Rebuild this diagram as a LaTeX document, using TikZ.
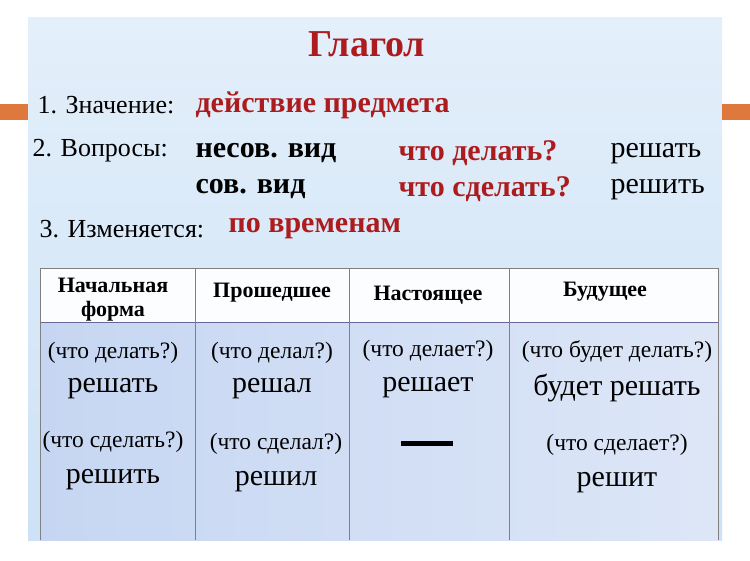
\documentclass[tikz,border=0pt]{standalone}
\usepackage{fontspec}
\setmainfont{Liberation Serif}
\usepackage{tikz}
\definecolor{verbred}{RGB}{172,28,30}
\definecolor{panel}{RGB}{205,226,246}
\definecolor{cellblue}{RGB}{198,214,242}
\definecolor{barorange}{RGB}{222,120,60}

\begin{document}
\begin{tikzpicture}[x=1pt,y=-1pt,
  lbl/.style={anchor=west, font=\fontsize{26}{30}\selectfont},
  red/.style={anchor=west, text=verbred, font=\fontsize{30}{34}\selectfont\bfseries},
  blk/.style={anchor=west, font=\fontsize{30}{34}\selectfont\bfseries},
  verb/.style={font=\fontsize{30}{34}\selectfont},
  quest/.style={font=\fontsize{23.5}{27}\selectfont},
  head/.style={font=\fontsize{22}{24}\selectfont\bfseries, align=center}]
\useasboundingbox (0,0) rectangle (750,561);
\fill[white] (0,0) rectangle (750,561);
\shade[top color=panel!55, bottom color=panel] (28,18) rectangle (722,540);
\fill[barorange] (0,104) rectangle (28,120);
\fill[barorange] (722,104) rectangle (750,120);
% table
\fill[white!92!panel] (40,268) rectangle (718,323);
\shade[left color=cellblue, right color=cellblue!60!white] (40,323) rectangle (718,540);
\draw[gray, line width=0.8pt] (40,268) -- (718,268);
\draw[gray!80!blue, line width=1pt] (40,323) -- (718,323);
\foreach \xc in {40,195,349,509,718}
  \draw[gray, line width=0.8pt] (\xc,268) -- (\xc,540);

\node[text=verbred, font=\fontsize{38}{42}\selectfont\bfseries] (title) at (367,44) {Глагол};
\node[lbl] (mean) at (34,105) {1. Значение:};
\node[red] (meanv) at (192,105) {действие предмета};
\node[lbl] (ask) at (29,151) {2. Вопросы:};
\node[blk] (imp) at (192,153) {несов. вид};
\node[red] (impq) at (395,153) {что делать?};
\node[anchor=west, verb] (impv) at (607,154) {решать};
\node[blk] (perf) at (192,189) {сов. вид};
\node[red] (perfq) at (395,189) {что сделать?};
\node[anchor=west, verb] (perfv) at (607,190) {решить};
\node[lbl] (chg) at (36,229) {3. Изменяется:};
\node[red] (chgv) at (225,229) {по временам};

\node[head] (h1) at (113,300) {Начальная\\форма};
\node[head] (h2) at (272,293) {Прошедшее};
\node[head] (h3) at (428,295) {Настоящее};
\node[head] (h4) at (605,292) {Будущее};

\node[quest] (q11) at (113,353) {(что делать?)};
\node[verb] (v11) at (113,389) {решать};
\node[quest] (q12) at (272,353) {(что делал?)};
\node[verb] (v12) at (272,389) {решал};
\node[quest] (q13) at (428,351) {(что делает?)};
\node[verb] (v13) at (428,388) {решает};
\node[quest] (q14) at (617,352) {(что будет делать?)};
\node[verb] (v14) at (617,388) {будет решать};

\node[quest] (q21) at (113,442) {(что сделать?)};
\node[verb] (v21) at (113,480) {решить};
\node[quest] (q22) at (276,444) {(что сделал?)};
\node[verb] (v22) at (276,482) {решил};
\fill[black] (401,441) rectangle (453,446);
\node[quest] (q24) at (617,445) {(что сделает?)};
\node[verb] (v24) at (617,483) {решит};
\end{tikzpicture}
\end{document}
